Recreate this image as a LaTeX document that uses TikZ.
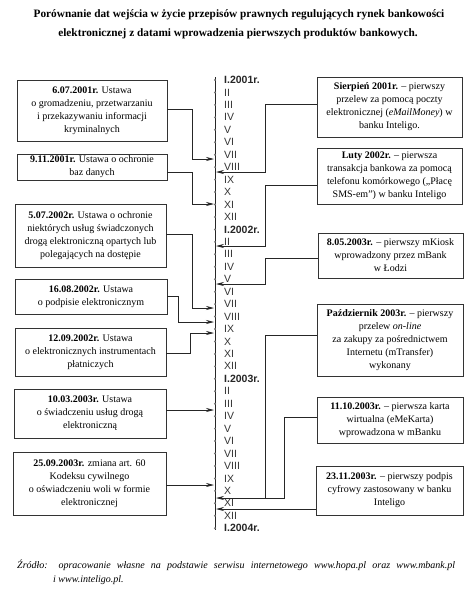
\documentclass[tikz,border=0pt]{standalone}
\usepackage{fontspec}
\setmainfont{Liberation Serif}
\newfontfamily\labelfont{Liberation Sans}
\usetikzlibrary{arrows.meta}
\begin{document}
\begin{tikzpicture}[x=1pt,y=-1pt,
 box/.style={draw=black!80, line width=0.7pt, align=center, inner sep=1pt, font=\fontsize{10}{13}\selectfont},
 conn/.style={draw=black!85, line width=0.7pt},
 arr/.style={conn, -{Stealth[length=8pt,width=4pt]}},
 mlab/.style={anchor=west, font=\labelfont\fontsize{10.5}{11}\selectfont, text=black!80, inner sep=0pt},
 ylab/.style={anchor=west, font=\labelfont\bfseries\fontsize{10.5}{11}\selectfont, text=black!85, inner sep=0pt}
]
\useasboundingbox (0,0) rectangle (476,605);

% title
\node[font=\bfseries\fontsize{11.3}{13}\selectfont] (title1) at (239,15) {Porównanie dat wejścia w życie przepisów prawnych regulujących rynek bankowości};
\node[font=\bfseries\fontsize{11.3}{13}\selectfont] (title2) at (238,34) {elektronicznej z datami wprowadzenia pierwszych produktów bankowych.};

% timeline
\coordinate (tTop) at (215,77);
\coordinate (tBot) at (215,530);
\draw[line width=0.9pt, black!85] (tTop) -- (tBot);
\foreach \k in {0,...,36}{
  \fill[black!55] (215,{80+12.45*\k}) circle (1.1pt);
}
\node[ylab] (y2001) at (224,80) {I.2001r.};
\node[ylab] (y2002) at (224,{80+12.45*12}) {I.2002r.};
\node[ylab] (y2003) at (224,{80+12.45*24}) {I.2003r.};
\node[ylab] (y2004) at (224,{80+12.45*36}) {I.2004r.};
\foreach \yr in {0,12,24}{
  \foreach \k/\m in {1/II,2/III,3/IV,4/V,5/VI,6/VII,7/VIII,8/IX,9/X,10/XI,11/XII}{
    \node[mlab] (m\yr-\k) at (224,{80+12.45*(\yr+\k)}) {\m};
  }
}

% left boxes
\node[box, minimum width=150pt, minimum height=61pt] (L1) at (92,110.5) {\textbf{6.07.2001r.} Ustawa\\ o gromadzeniu, przetwarzaniu\\ i przekazywaniu informacji\\ kryminalnych};
\node[box, minimum width=150pt, minimum height=26pt] (L2) at (92,167) {\textbf{9.11.2001r.} Ustawa o ochronie\\ baz danych};
\node[box, minimum width=151pt, minimum height=63pt] (L3) at (90.5,235.5) {\textbf{5.07.2002r.} Ustawa o ochronie\\ niektórych usług świadczonych\\ drogą elektroniczną opartych lub\\ polegających na dostępie};
\node[box, minimum width=152pt, minimum height=35pt] (L4) at (91,296.5) {\textbf{16.08.2002r.} Ustawa\\ o podpisie elektronicznym};
\node[box, minimum width=151pt, minimum height=48pt] (L5) at (90.5,352) {\textbf{12.09.2002r.} Ustawa\\ o elektronicznych instrumentach\\ płatniczych};
\node[box, minimum width=152pt, minimum height=49pt] (L6) at (90,413.5) {\textbf{10.03.2003r.} Ustawa\\ o świadczeniu usług drogą\\ elektroniczną};
\node[box, minimum width=153pt, minimum height=63pt] (L7) at (89.5,483.5) {\textbf{25.09.2003r.} zmiana art. 60\\ Kodeksu cywilnego\\ o oświadczeniu woli w formie\\ elektronicznej};

% right boxes
\node[box, minimum width=145pt, minimum height=60pt] (R1) at (389.5,107) {\textbf{Sierpień 2001r.} – pierwszy\\ przelew za pomocą poczty\\ elektronicznej (\textit{eMailMoney}) w\\ banku Inteligo.};
\node[box, minimum width=145pt, minimum height=56pt] (R2) at (389.5,176) {\textbf{Luty 2002r.} – pierwsza\\ transakcja bankowa za pomocą\\ telefonu komórkowego („Płacę\\ SMS-em”) w banku Inteligo};
\node[box, minimum width=145pt, minimum height=45pt] (R3) at (390.5,255.5) {\textbf{8.05.2003r.} – pierwszy mKiosk\\ wprowadzony przez mBank\\ w Łodzi};
\node[box, minimum width=146pt, minimum height=72pt] (R4) at (390,340) {\textbf{Październik 2003r.} – pierwszy\\ przelew \textit{on-line}\\ za zakupy za pośrednictwem\\ Internetu (mTransfer)\\ wykonany};
\node[box, minimum width=146pt, minimum height=46pt] (R5) at (390,420) {\textbf{11.10.2003r.} – pierwsza karta\\ wirtualna (eMeKarta)\\ wprowadzona w mBanku};
\node[box, minimum width=147pt, minimum height=49pt] (R6) at (389.5,490.5) {\textbf{23.11.2003r.} – pierwszy podpis\\ cyfrowy zastosowany w banku\\ Inteligo};

% arrow targets on the timeline
\coordinate (aL1) at (214,159);
\coordinate (aL2) at (214,204);
\coordinate (aL3) at (214,308);
\coordinate (aL4) at (214,322);
\coordinate (aL5) at (214,333);
\coordinate (aL6) at (214,410);
\coordinate (aL7) at (214,485);
\coordinate (aR1) at (216,172);
\coordinate (aR2) at (216,246);
\coordinate (aR3) at (216,284);
\coordinate (aR4) at (216,498);
\coordinate (aR6) at (216,509);
\coordinate (jR) at (266,498);

% left connectors
\draw[arr] ([yshift=1.5pt]L1.east) -- ++(25,0) |- (aL1);
\draw[arr] ([yshift=-5pt]L2.east) -- ++(25,0) |- (aL2);
\draw[arr] ([yshift=1.5pt]L3.east) -- ++(26,0) |- (aL3);
\draw[arr] (L4.east) -- ++(11,0) |- (aL4);
\draw[arr] ([yshift=-1pt]L5.east) -- ++(24,0) |- (aL5);
\draw[arr] (L6.east |- aL6) -- (aL6);
\draw[arr] (L7.east |- aL7) -- (aL7);

% right connectors
\draw[arr] ([yshift=3pt]R1.west) -- ++(-51,0) |- (aR1);
\draw[arr] ([yshift=-9pt]R2.west) -- ++(-51,0) |- (aR2);
\draw[arr] ([yshift=-2.5pt]R3.west) -- ++(-52,0) |- (aR3);
\draw[arr] ([yshift=5pt]R4.west) -- ++(-51,0) |- (aR4);
\draw[conn] ([yshift=3pt]R5.west) -- ++(-32,0) |- (jR);
\draw[arr] (R6.west |- aR6) -- (aR6);

% source
\node[anchor=west, inner sep=0pt, font=\itshape\fontsize{10}{12}\selectfont] (src1) at (17,565) {\makebox[438pt][s]{Źródło: opracowanie własne na podstawie serwisu internetowego www.hopa.pl oraz www.mbank.pl}};
\node[anchor=west, inner sep=0pt, font=\itshape\fontsize{10}{12}\selectfont] (src2) at (53,580) {i www.inteligo.pl.};
\end{tikzpicture}
\end{document}
